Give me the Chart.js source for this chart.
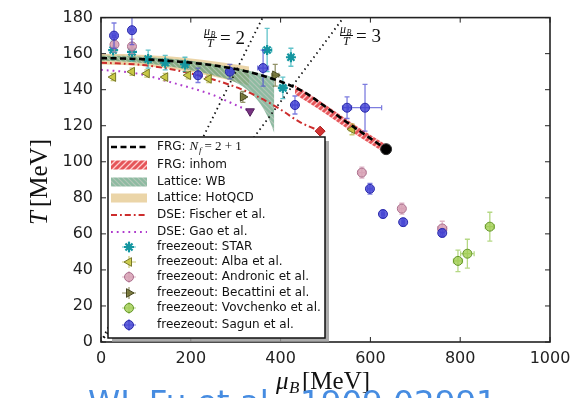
<!DOCTYPE html>
<html><head><meta charset="utf-8">
<script src="https://cdn.jsdelivr.net/npm/chart.js@4.4.0/dist/chart.umd.min.js"></script>
<style>html,body{margin:0;padding:0;background:#fff}#wrap{width:581px;height:398px;position:relative}</style>
</head><body><div id="wrap"><canvas id="c" width="581" height="398"></canvas></div>
<script>
// ---------- data ----------
const xTicks=[0,200,400,600,800,1000];
const yTicks=[0,20,40,60,80,100,120,140,160,180];

const frgMu=[0,50,100,150,200,250,300,350,400,450,500,550,600,635];
const frgT =[157.5,157.3,156.8,156,155,153.5,151.5,148.5,144.5,139,130.5,121.5,113,107];
const cepMu=[635]; const cepT=[107];

const inhomMu=[432,480,530,580,635];
const inhomHi=[142.5,135,126.5,118,109.5];
const inhomLo=[137.5,130,121.5,113,104.5];

const wbMu=[0,50,100,150,200,250,300,330,355,375,386];
const wbHi=[159,158.8,158.2,157.3,156,154.3,152,150.5,149,147.5,146.5];
const wbLo=[156,155.6,154.6,153,150.8,148,144,139,132,123,116];

const hotMu=[0,50,100,150,200,250,300,330];
const hotHi=[160,159.8,159.3,158.5,157.3,155.8,154,152.8];
const hotLo=[154,153.7,153,151.7,149.8,147.3,144.3,142.3];

const fisMu=[0,100,200,300,350,400,443,488];
const fisT =[155,153.5,149,141.5,136,129,122,117];
const fisCepMu=[488]; const fisCepT=[117];

const gaoMu=[0,50,100,150,200,250,300,332];
const gaoT =[151,150,148,144.5,141,137,131.5,128];
const gaoCepMu=[332]; const gaoCepT=[128];

const line2Mu=[0,360]; const line2T=[0,180];
const line3Mu=[0,540]; const line3T=[0,180];

const starMu=[27,69,105,143,187,370,405,423];
const starT =[162,161,157,155,154,162,141,158];
const starXe=[4,4,5,5,5,10,8,5];
const starYe=[5,5,5,4,4,12,6,5];

const albaMu=[27,69,102,143,194,240,559];
const albaT =[147,150,149,147,148,146,118];
const albaXe=[3,3,3,3,3,4,6];
const albaYe=[2,2,2,2,2,2,3];

const andMu=[30,69,581,670,760];
const andT =[165,164,94,74,63];
const andXe=[3,3,8,5,10];
const andYe=[4,4,3,3,4];

const becMu=[388,316];
const becT =[148,136];
const becXe=[8,5];
const becYe=[6,3];

const vovMu=[795,816,866];
const vovT =[45,49,64];
const vovXe=[10,15,10];
const vovYe=[6,8,8];

const sagMu=[29,69,216,287,361,432,548,588,599,628,673,760];
const sagT =[170,173,148,150,152,131.5,130,130,85,71,66.5,60.5];
const sagXe=[4,4,6,5,12,6,10,37,5,3,3,4];
const sagYe=[7,8,4,4,10,5,6,13,3,2,2,2];

const legendLabels=['FRG: ','FRG: inhom','Lattice: WB','Lattice: HotQCD','DSE: Fischer et al.','DSE: Gao et al.',
 'freezeout: STAR','freezeout: Alba et al.','freezeout: Andronic et al.','freezeout: Becattini et al.','freezeout: Vovchenko et al.','freezeout: Sagun et al.'];
const citation='WL Fu et al., 1909.02991';

// ---------- helpers ----------
const cv=document.getElementById('c');
const mainCtx=cv.getContext('2d');
function hatch(bg,fg,size,lw,dir){
  const p=document.createElement('canvas');p.width=p.height=size;
  const g=p.getContext('2d');g.fillStyle=bg;g.fillRect(0,0,size,size);
  g.strokeStyle=fg;g.lineWidth=lw;g.beginPath();
  if(dir>0){g.moveTo(0,size);g.lineTo(size,0);g.moveTo(-size,size);g.lineTo(size,-size);g.moveTo(0,2*size);g.lineTo(2*size,0);}
  else{g.moveTo(0,0);g.lineTo(size,size);g.moveTo(-size,0);g.lineTo(size,2*size);g.moveTo(0,-size);g.lineTo(2*size,size);}
  g.stroke();return mainCtx.createPattern(p,'repeat');
}
const redHatch=hatch('rgba(225,55,60,0.85)','rgba(255,215,215,0.95)',6,1.3,1);
const greenHatch=hatch('rgba(80,150,110,0.65)','rgba(190,200,190,0.8)',5,1.2,-1);
const hotColor='rgba(222,185,110,0.6)';
const pts=(xs,ys)=>xs.map((x,i)=>({x:x,y:ys[i]}));

const fz=[
 {key:'star',mu:starMu,T:starT,xe:starXe,ye:starYe,style:'star',rot:0,r:5,fill:'rgba(30,170,170,0.8)',edge:'rgb(20,150,160)',bw:2.2},
 {key:'alba',mu:albaMu,T:albaT,xe:albaXe,ye:albaYe,style:'triangle',rot:-90,r:5,fill:'rgba(200,200,60,0.85)',edge:'rgb(120,120,40)',bw:1},
 {key:'and',mu:andMu,T:andT,xe:andXe,ye:andYe,style:'circle',rot:0,r:4.5,fill:'rgba(215,160,180,0.85)',edge:'rgb(170,110,140)',bw:1},
 {key:'bec',mu:becMu,T:becT,xe:becXe,ye:becYe,style:'triangle',rot:90,r:5,fill:'rgba(110,110,45,0.85)',edge:'rgb(70,70,30)',bw:1},
 {key:'vov',mu:vovMu,T:vovT,xe:vovXe,ye:vovYe,style:'circle',rot:0,r:4.5,fill:'rgba(160,205,80,0.8)',edge:'rgb(100,150,40)',bw:1},
 {key:'sag',mu:sagMu,T:sagT,xe:sagXe,ye:sagYe,style:'circle',rot:0,r:4.5,fill:'rgba(60,60,210,0.8)',edge:'rgb(40,40,170)',bw:1}
];
const fzErrColor=['rgba(30,170,180,0.7)','rgba(180,180,60,0.7)','rgba(210,150,175,0.7)','rgba(100,100,40,0.7)','rgba(150,200,80,0.7)','rgba(70,70,210,0.7)'];

const dsets=[
 {data:pts(hotMu,hotLo),borderColor:'transparent',pointRadius:0,showLine:true,fill:false,order:100},
 {data:pts(hotMu,hotHi),borderColor:'transparent',pointRadius:0,showLine:true,fill:{target:0},backgroundColor:hotColor,order:99},
 {data:pts(wbMu,wbLo),borderColor:'transparent',pointRadius:0,showLine:true,fill:false,order:98},
 {data:pts(wbMu,wbHi),borderColor:'transparent',pointRadius:0,showLine:true,fill:{target:2},backgroundColor:greenHatch,order:97},
 {data:pts(inhomMu,inhomLo),borderColor:'transparent',pointRadius:0,showLine:true,fill:false,order:96},
 {data:pts(inhomMu,inhomHi),borderColor:'transparent',pointRadius:0,showLine:true,fill:{target:4},backgroundColor:redHatch,order:95},
 {data:pts(line2Mu,line2T),borderColor:'#111',borderWidth:1.8,borderDash:[1.5,3.5],pointRadius:0,showLine:true,order:90},
 {data:pts(line3Mu,line3T),borderColor:'#111',borderWidth:1.8,borderDash:[1.5,3.5],pointRadius:0,showLine:true,order:89},
 {data:pts(gaoMu,gaoT),borderColor:'rgb(175,60,205)',borderWidth:2,borderDash:[1.8,4],pointRadius:0,showLine:true,order:80},
 {data:pts(fisMu,fisT),borderColor:'rgb(205,45,45)',borderWidth:2,borderDash:[6,3,1.8,3],pointRadius:0,showLine:true,order:79}
];
fz.forEach((f,i)=>{
 dsets.push({data:pts(f.mu,f.T),showLine:false,pointStyle:f.style,pointRotation:f.rot,pointRadius:f.r,
   backgroundColor:f.fill,borderColor:f.edge,pointBorderWidth:f.bw,borderWidth:f.bw,order:50-i,errIdx:i});
});
dsets.push({data:pts(frgMu,frgT),borderColor:'#000',borderWidth:2.6,borderDash:[6,3.5],pointRadius:0,showLine:true,order:10});
dsets.push({data:pts(cepMu,cepT),pointRadius:5.5,backgroundColor:'#000',borderColor:'#333',showLine:false,order:5});
dsets.push({data:pts(fisCepMu,fisCepT),pointStyle:'rectRot',pointRadius:5,backgroundColor:'rgb(210,50,50)',borderColor:'rgb(170,30,30)',showLine:false,order:6});
dsets.push({data:pts(gaoCepMu,gaoCepT),pointStyle:'triangle',pointRotation:180,pointRadius:5,backgroundColor:'rgb(120,50,130)',borderColor:'rgb(80,30,90)',showLine:false,order:7});

// ---------- plugins ----------
const errPlugin={id:'err',beforeDatasetDraw(chart,args){
  const ds=chart.data.datasets[args.index]; if(ds.errIdx===undefined)return;
  const f=fz[ds.errIdx]; const xs=chart.scales.x, ys=chart.scales.y, c=chart.ctx, a=chart.chartArea;
  c.save(); c.beginPath(); c.rect(a.left,a.top,a.right-a.left,a.bottom-a.top); c.clip();
  c.strokeStyle=fzErrColor[ds.errIdx]; c.lineWidth=1.3; c.beginPath();
  f.mu.forEach((m,i)=>{
    const px=xs.getPixelForValue(m), py=ys.getPixelForValue(f.T[i]);
    const x0=xs.getPixelForValue(m-f.xe[i]), x1=xs.getPixelForValue(m+f.xe[i]);
    const y0=ys.getPixelForValue(f.T[i]-f.ye[i]), y1=ys.getPixelForValue(f.T[i]+f.ye[i]);
    c.moveTo(x0,py);c.lineTo(x1,py);c.moveTo(px,y0);c.lineTo(px,y1);
    c.moveTo(x0,py-2.5);c.lineTo(x0,py+2.5);c.moveTo(x1,py-2.5);c.lineTo(x1,py+2.5);
    c.moveTo(px-2.5,y0);c.lineTo(px+2.5,y0);c.moveTo(px-2.5,y1);c.lineTo(px+2.5,y1);
  });
  c.stroke(); c.restore();
}};

function fracLabel(c,x,y,den){
  c.fillStyle='#111';
  c.font='italic 12px "Liberation Serif"'; c.textBaseline='alphabetic'; c.textAlign='left';
  c.fillText('μ',x,y-2); c.font='italic 8px "Liberation Serif"'; c.fillText('B',x+6.5,y-0.5);
  c.strokeStyle='#111'; c.lineWidth=1; c.beginPath(); c.moveTo(x,y+0.5); c.lineTo(x+13,y+0.5); c.stroke();
  c.font='italic 12px "Liberation Serif"'; c.fillText('T',x+3,y+10);
  c.font='19px "Liberation Serif"'; c.fillText('= '+den,x+16,y+7);
}

const decoPlugin={id:'deco',afterDatasetsDraw(chart){
  const c=chart.ctx,a=chart.chartArea,xs=chart.scales.x,ys=chart.scales.y;
  c.save();
  c.strokeStyle='#222';c.lineWidth=1.6;c.strokeRect(a.left,a.top,a.right-a.left,a.bottom-a.top);
  c.lineWidth=1;c.beginPath();
  xTicks.forEach(v=>{const p=xs.getPixelForValue(v);c.moveTo(p,a.bottom);c.lineTo(p,a.bottom-5);c.moveTo(p,a.top);c.lineTo(p,a.top+5);});
  yTicks.forEach(v=>{const p=ys.getPixelForValue(v);c.moveTo(a.left,p);c.lineTo(a.left+5,p);c.moveTo(a.right,p);c.lineTo(a.right-5,p);});
  c.stroke();
  fracLabel(c,204,37,'2');
  fracLabel(c,340,35,'3');
  const L=108,Tp=137,R=325,B=338;
  c.fillStyle='rgba(150,150,150,0.8)';c.fillRect(L+4,Tp+4,R-L,B-Tp);
  c.fillStyle='#fff';c.fillRect(L,Tp,R-L,B-Tp);
  c.strokeStyle='#111';c.lineWidth=1.5;c.strokeRect(L,Tp,R-L,B-Tp);
  const rows=[147,165,182,198,215,232,247,262,277,293,308,325];
  const sx0=111,sx1=147,tx=157;
  function lineS(y,col,w,dash){c.save();c.strokeStyle=col;c.lineWidth=w;c.setLineDash(dash);c.beginPath();c.moveTo(sx0,y);c.lineTo(sx1,y);c.stroke();c.restore();}
  function rectS(y,fill){c.fillStyle=fill;c.fillRect(sx0,y-4.5,sx1-sx0,9);}
  lineS(rows[0],'#000',2.6,[6,3.5]);
  rectS(rows[1],redHatch);
  rectS(rows[2],greenHatch);
  rectS(rows[3],hotColor);
  lineS(rows[4],'rgb(205,45,45)',2,[6,3,1.8,3]);
  lineS(rows[5],'rgb(175,60,205)',2,[1.8,4]);
  fz.forEach((f,i)=>{
    const y=rows[6+i],x=129;
    c.strokeStyle=fzErrColor[i];c.lineWidth=1.2;c.beginPath();c.moveTo(x-7,y);c.lineTo(x+7,y);c.moveTo(x,y-6);c.lineTo(x,y+6);c.stroke();
    c.fillStyle=f.fill;c.strokeStyle=f.edge;c.lineWidth=f.bw;
    Chart.helpers.drawPoint(c,{pointStyle:f.style,radius:f.r,rotation:f.rot,borderWidth:f.bw},x,y);
  });
  c.fillStyle='#111';c.textBaseline='middle';c.textAlign='left';
  legendLabels.forEach((t,i)=>{c.font='12px "DejaVu Sans"';c.fillText(t,tx,rows[i]);});
  c.font='12px "DejaVu Sans"';
  let w=c.measureText(legendLabels[0]).width;
  c.font='italic 13px "Liberation Serif"';c.fillText('N',tx+w,rows[0]);
  c.font='italic 9px "Liberation Serif"';c.fillText('f',tx+w+9.5,rows[0]+4);
  c.font='13px "Liberation Serif"';c.fillText('= 2 + 1',tx+w+15,rows[0]);
  c.restore();
},
afterDraw(chart){
  const c=chart.ctx;c.save();
  c.fillStyle='#111';c.textBaseline='alphabetic';c.textAlign='left';
  c.font='italic 25px "Liberation Serif"';c.fillText('μ',276,389);
  c.font='italic 17px "Liberation Serif"';c.fillText('B',289,393);
  c.font='25px "Liberation Serif"';c.fillText('[MeV]',302,389);
  c.translate(47,182);c.rotate(-Math.PI/2);
  c.font='italic 25px "Liberation Serif"';
  const wT=c.measureText('T').width; c.font='25px "Liberation Serif"'; const wM=c.measureText('[MeV]').width;
  const tot=wT+4+wM; c.font='italic 25px "Liberation Serif"';c.fillText('T',-tot/2,0);
  c.font='25px "Liberation Serif"';c.fillText('[MeV]',-tot/2+wT+4,0);
  c.restore();
  c.save();c.fillStyle='rgb(70,140,225)';c.textBaseline='alphabetic';c.textAlign='left';
  c.font='26px "DejaVu Sans"';const cw=c.measureText(citation).width;const fs=26*409/cw;
  c.font=fs.toFixed(1)+'px "DejaVu Sans"';c.fillText(citation,88,389+fs*0.73);
  c.restore();
}};

new Chart(cv,{type:'scatter',data:{datasets:dsets},
 options:{responsive:false,animation:false,devicePixelRatio:1,
  layout:{padding:{left:0,top:15,right:31,bottom:0}},
  plugins:{legend:{display:false},tooltip:{enabled:false},filler:{propagate:false}},
  elements:{line:{cubicInterpolationMode:'monotone'}},
  scales:{
   x:{type:'linear',min:0,max:1000,grid:{display:false,drawTicks:false},border:{display:false},
      afterBuildTicks:s=>{s.ticks=xTicks.map(v=>({value:v}));},
      afterFit:s=>{s.height=56;},
      ticks:{padding:7,color:'#222',font:{family:'DejaVu Sans',size:16},maxRotation:0,autoSkip:false,callback:v=>String(v)}},
   y:{type:'linear',min:0,max:180,grid:{display:false,drawTicks:false},border:{display:false},
      afterBuildTicks:s=>{s.ticks=yTicks.map(v=>({value:v}));},
      afterFit:s=>{s.width=101;},
      ticks:{padding:8,color:'#222',font:{family:'DejaVu Sans',size:16},autoSkip:false,callback:v=>String(v)}}
  }},
 plugins:[errPlugin,decoPlugin]});
</script></body></html>
